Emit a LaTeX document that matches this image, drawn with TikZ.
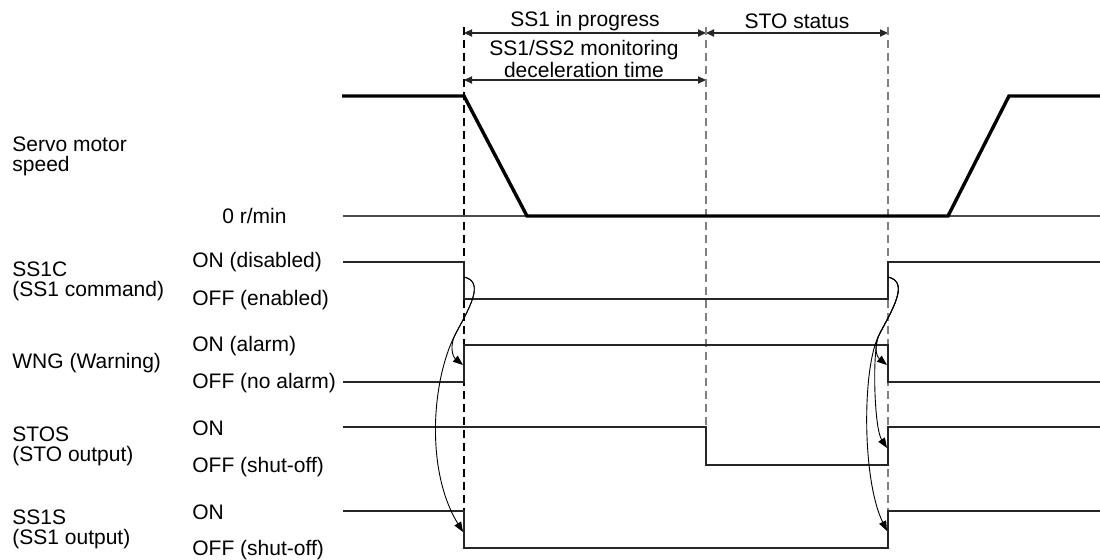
\documentclass[tikz,border=0pt]{standalone}
\usepackage{fontspec}
\setmainfont{Liberation Sans}
\usetikzlibrary{arrows.meta}

\begin{document}
\begin{tikzpicture}[x=0.5pt, y=-0.5pt, every node/.style={font=\fontsize{10.5}{10}\selectfont, inner sep=0pt},
  lbl/.style={anchor=west, align=left},
  sig/.style={line width=0.7pt, black!85},
  spd/.style={line width=1.7pt},
  zero/.style={line width=0.6pt, black!70},
  guide/.style={dash pattern=on 4pt off 2.5pt, line width=0.6pt, black!50},
  dim/.style={{Triangle[length=4pt,width=3.6pt]}-{Triangle[length=4pt,width=3.6pt]}, line width=0.6pt, black!85},
  cause/.style={-{Triangle[length=5pt,width=3.8pt]}, line width=0.45pt}]
\useasboundingbox (0,0) rectangle (1100,560);

% signal names and levels
\node[lbl] (speed) at (12,156) {Servo motor\\speed};
\node[lbl] (ss1c) at (12,281) {SS1C\\(SS1 command)};
\node[lbl] (wng) at (12,363) {WNG (Warning)};
\node[lbl] (stos) at (12,446) {STOS\\(STO output)};
\node[lbl] (ss1s) at (12,529) {SS1S\\(SS1 output)};
\node[lbl] (zerolbl) at (222,216) {0 r/min};
\node[lbl] (ss1con) at (192,262) {ON (disabled)};
\node[lbl] (ss1coff) at (192,300) {OFF (enabled)};
\node[lbl] (wngon) at (192,346) {ON (alarm)};
\node[lbl] (wngoff) at (192,383) {OFF (no alarm)};
\node[lbl] (stoson) at (192,428) {ON};
\node[lbl] (stosoff) at (192,467) {OFF (shut-off)};
\node[lbl] (ss1son) at (192,512) {ON};
\node[lbl] (ss1soff) at (192,550) {OFF (shut-off)};

% time spans
\node (prog) at (585,21) {SS1 in progress};
\node (sto) at (797,21) {STO status};
\node[align=center, font=\fontsize{10.5}{8.7}\selectfont] (decel) at (584,59) {SS1/SS2 monitoring\\deceleration time};
\coordinate (ta) at (464,33); \coordinate (tb) at (706,33); \coordinate (tc) at (888,33);
\coordinate (da) at (464,80); \coordinate (db) at (706,80);
\draw[dim] (ta) -- (tb); \draw[dim] (tb) -- (tc); \draw[dim] (da) -- (db);

\draw[guide, black] (464,27) -- (464,532);
\draw[guide] (706,27) -- (706,465);
\draw[guide] (888,27) -- (888,511);

% waveforms
\draw[zero] (343,216) -- (1100,216);
\draw[spd] (342,96) -- (464,96) -- (527,216) -- (948,216) -- (1009,96) -- (1100,96);
\draw[sig] (343,262) -- (464,262) -- (464,299) -- (888,299) -- (888,262) -- (1100,262);
\draw[sig] (343,382) -- (464,382) -- (464,345) -- (888,345) -- (888,382) -- (1100,382);
\draw[sig] (343,427) -- (706,427) -- (706,465) -- (888,465) -- (888,427) -- (1100,427);
\draw[sig] (343,511) -- (464,511) -- (464,548) -- (888,548) -- (888,511) -- (1100,511);

% cause and effect
\coordinate (c1) at (464,277); \coordinate (w1) at (463,365); \coordinate (s1) at (463,532);
\coordinate (c2) at (888,277); \coordinate (w2) at (887,365); \coordinate (t2) at (887,448); \coordinate (s2) at (887,531);
\draw[cause] (c1) .. controls (486,282) and (468,310) .. (455,335) .. controls (450,345) and (452,356) .. (w1);
\draw[cause] (c1) .. controls (486,282) and (468,310) .. (455,335) .. controls (432,380) and (425,470) .. (s1);
\draw[cause] (c2) .. controls (910,282) and (892,310) .. (879,335) .. controls (874,345) and (876,356) .. (w2);
\draw[cause] (c2) .. controls (910,282) and (892,310) .. (879,335) .. controls (872,349) and (874,428) .. (t2);
\draw[cause] (c2) .. controls (910,282) and (892,310) .. (879,335) .. controls (862,368) and (862,480) .. (s2);
\end{tikzpicture}
\end{document}
